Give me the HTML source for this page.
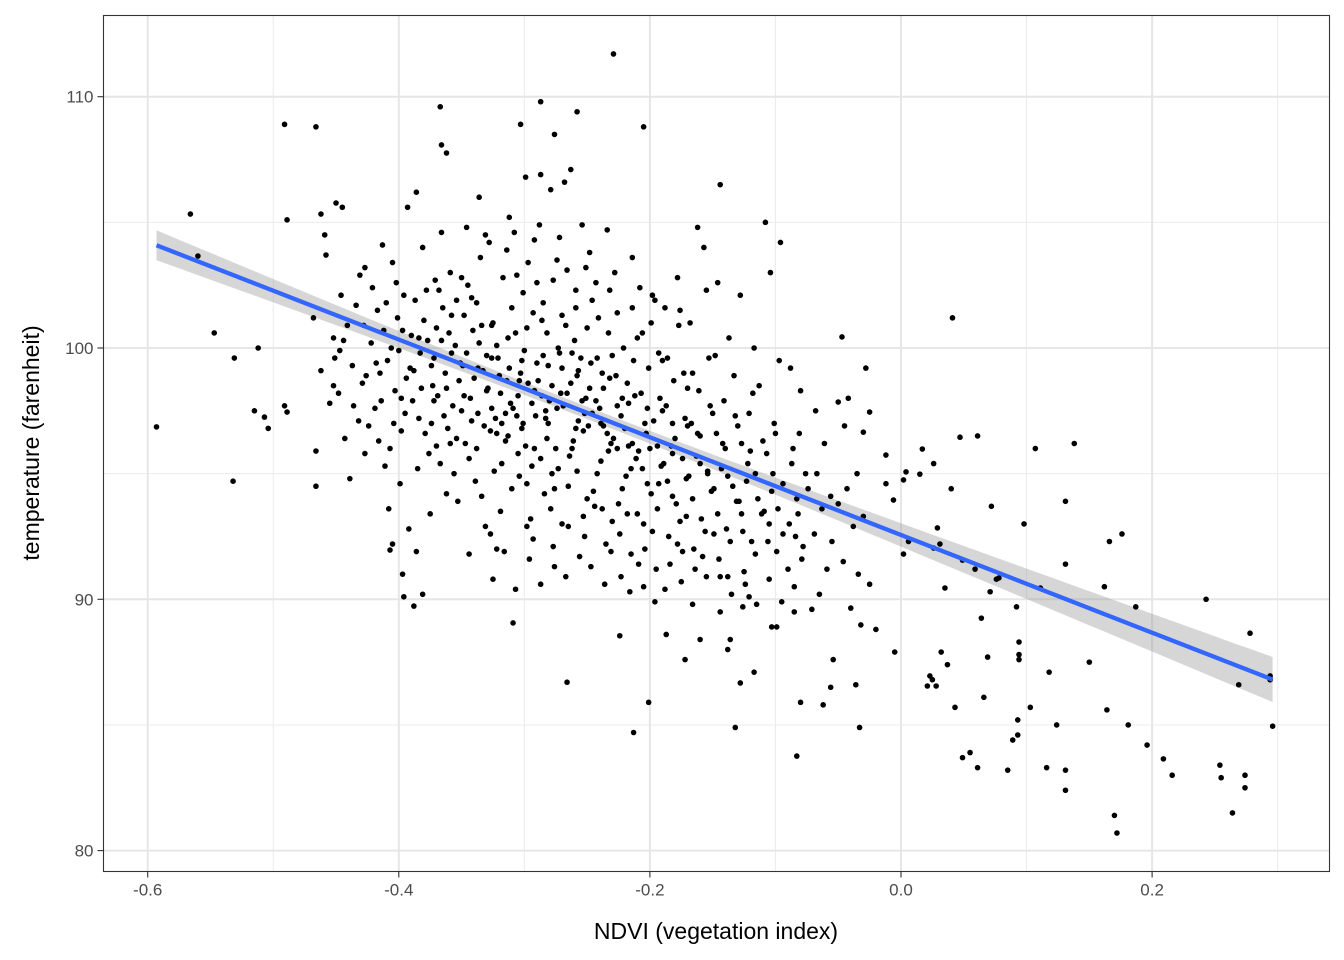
<!DOCTYPE html>
<html><head><meta charset="utf-8"><style>
html,body{margin:0;padding:0;background:#fff;}
svg{display:block;font-family:"Liberation Sans",Arial,sans-serif;}
</style></head><body>
<svg id="chart" width="1344" height="960" viewBox="0 0 1344 960">
<rect x="0" y="0" width="1344" height="960" fill="#fff"/>
<g id="grid"></g>
<g id="ribbon"></g>
<g id="pts"></g>
<g id="fit"></g>
<rect x="103.5" y="15.5" width="1226" height="856" fill="none" stroke="#333" stroke-width="1.1"/>
<g id="axes"></g>
<text x="716" y="939" text-anchor="middle" font-size="23" fill="#000">NDVI (vegetation index)</text>
<text transform="translate(39,443) rotate(-90)" text-anchor="middle" font-size="23" fill="#000">temperature (farenheit)</text>
</svg>
<script>
const xTicks = [-0.6, -0.4, -0.2, 0.0, 0.2];
const xTickLabels = ["-0.6", "-0.4", "-0.2", "0.0", "0.2"];
const yTicks = [80, 90, 100, 110];
const yTickLabels = ["80", "90", "100", "110"];
const fitIntercept = 92.56;
const fitSlope = -19.44;
const fitRange = [-0.593, 0.296];
const points = [
[-0.593,96.86],[-0.566,105.33],[-0.560,103.66],[-0.547,100.6],[-0.531,99.6],[-0.532,94.7],[-0.512,100.0],[-0.515,97.5],[-0.507,97.25],[-0.504,96.8],
[-0.491,108.9],[-0.489,105.1],[-0.491,97.7],[-0.489,97.45],[-0.466,108.8],[-0.466,94.5],[-0.462,105.33],[-0.45,105.77],[-0.367,109.6],[-0.366,108.08],
[-0.362,107.76],[-0.407,91.96],[-0.405,92.2],[-0.397,91.0],[-0.396,90.1],[-0.388,89.73],[-0.381,90.2],[-0.386,91.9],[-0.287,106.9],[-0.287,109.8],
[-0.303,108.9],[-0.258,109.4],[-0.276,108.5],[-0.229,111.7],[-0.205,108.8],[-0.144,106.5],[-0.309,89.06],[-0.266,86.7],[-0.224,88.55],[-0.213,84.7],
[-0.201,85.9],[-0.187,88.6],[-0.172,87.6],[-0.160,88.4],[-0.132,84.9],[-0.128,86.67],[-0.138,88.0],[-0.136,88.4],[-0.117,87.1],[-0.126,89.7],
[-0.103,88.9],[-0.099,88.9],[-0.083,83.76],[-0.085,89.5],[-0.080,85.9],[-0.071,89.6],[-0.062,85.8],[-0.056,86.5],[-0.054,87.6],[-0.040,89.65],
[-0.036,86.6],[-0.033,84.9],[-0.032,88.98],[-0.020,88.8],[-0.005,87.9],[0.041,101.2],[0.021,86.55],[0.023,86.95],[0.025,86.8],[0.028,86.55],
[0.032,87.9],[0.037,87.4],[0.043,85.7],[0.049,83.7],[0.055,83.9],[0.061,83.3],[0.069,87.7],[0.066,86.1],[0.071,90.3],[0.064,89.25],
[0.085,83.2],[0.089,84.4],[0.093,84.6],[0.093,85.2],[0.094,87.6],[0.094,87.8],[0.094,88.3],[0.092,89.7],[0.103,85.7],[0.107,96.0],
[0.098,93.0],[0.116,83.3],[0.118,87.1],[0.124,85.0],[0.131,82.4],[0.131,83.2],[0.131,91.4],[0.131,93.9],[0.138,96.2],[0.150,87.5],
[0.162,90.5],[0.164,85.6],[0.166,92.3],[0.170,81.4],[0.172,80.7],[0.176,92.6],[0.181,85.0],[0.187,89.7],[0.196,84.2],[0.209,83.65],
[0.216,83.0],[0.243,90.0],[0.254,83.4],[0.255,82.9],[0.264,81.5],[0.274,83.0],[0.274,82.5],[0.278,88.65],[0.294,86.95],[0.296,84.95],
[0.294,86.8],[0.269,86.6],[0.072,93.7],[0.061,96.5],[0.047,96.45],[0.040,94.4],[0.026,95.4],[0.015,94.98],[0.017,95.98],[0.029,92.84],
[0.035,90.45],[0.026,92.04],[0.031,92.2],[0.049,91.56],[0.059,91.2],[0.078,90.85],[0.111,90.45],[0.076,90.8],[0.006,92.3],[0.002,91.8],
[-0.006,93.95],[-0.012,94.6],[0.002,94.75],[0.004,95.07],[-0.012,95.74],[-0.028,99.2],[-0.047,100.44],[-0.042,98.0],[-0.050,97.85],[-0.030,96.65],[-0.025,97.45],
[-0.468,101.2],[-0.462,99.1],[-0.458,103.7],[-0.455,97.8],[-0.452,100.4],[-0.466,95.9],[-0.459,104.5],[-0.451,99.6],
[-0.448,98.2],[-0.446,102.1],[-0.443,96.4],[-0.441,100.9],[-0.439,94.8],[-0.445,105.6],[-0.437,99.3],[-0.434,101.7],[-0.432,97.1],[-0.447,99.9],
[-0.429,98.6],[-0.427,103.2],[-0.424,96.9],[-0.422,100.2],[-0.419,97.6],[-0.417,101.5],[-0.415,99.0],[-0.413,104.1],[-0.411,95.3],[-0.426,98.9],[-0.421,102.4],[-0.414,97.9],
[-0.409,99.5],[-0.407,96.0],[-0.405,103.4],[-0.403,98.3],[-0.401,101.2],[-0.399,94.6],[-0.397,100.7],[-0.395,97.4],[-0.393,105.6],[-0.391,99.2],[-0.408,93.6],[-0.402,102.6],[-0.398,96.7],[-0.394,98.8],[-0.392,92.8],[-0.406,100.0],
[-0.389,97.9],[-0.387,101.9],[-0.385,95.2],[-0.383,99.8],[-0.381,104.0],[-0.379,96.6],[-0.377,100.3],[-0.375,93.4],[-0.373,98.5],[-0.371,102.7],[-0.388,99.1],[-0.384,97.2],[-0.380,101.1],[-0.376,95.8],[-0.372,99.6],[-0.386,106.2],[-0.374,97.0],[-0.370,100.8],
[-0.369,98.1],[-0.367,95.4],[-0.365,101.6],[-0.363,99.0],[-0.361,96.8],[-0.359,103.0],[-0.357,97.7],[-0.355,100.1],[-0.353,93.9],[-0.351,99.4],[-0.368,102.3],[-0.364,97.3],[-0.360,100.6],[-0.356,95.0],[-0.352,98.7],[-0.366,104.6],[-0.358,99.8],[-0.354,101.9],[-0.362,94.2],[-0.350,97.5],
[-0.349,99.3],[-0.347,96.2],[-0.345,102.5],[-0.343,98.0],[-0.341,100.7],[-0.339,94.7],[-0.337,97.4],[-0.335,103.6],[-0.333,99.1],[-0.331,92.9],[-0.348,101.3],[-0.344,95.6],[-0.340,98.8],[-0.336,100.2],[-0.332,96.9],[-0.346,104.8],[-0.342,97.1],[-0.338,101.8],[-0.334,94.1],[-0.330,99.7],[-0.344,91.8],[-0.336,106.0],
[-0.329,98.4],[-0.327,96.7],[-0.325,101.0],[-0.323,97.2],[-0.321,99.6],[-0.319,93.5],[-0.317,102.8],[-0.315,96.3],[-0.313,100.4],[-0.311,97.8],[-0.328,104.2],[-0.324,95.1],[-0.320,98.9],[-0.316,91.9],[-0.312,99.2],[-0.326,100.9],[-0.322,96.6],[-0.318,97.0],[-0.314,103.9],[-0.310,94.4],[-0.327,92.6],[-0.319,98.2],[-0.313,96.5],[-0.325,90.8],
[-0.309,97.6],[-0.307,100.6],[-0.305,95.8],[-0.303,99.0],[-0.301,102.2],[-0.299,96.1],[-0.297,98.6],[-0.295,93.2],[-0.293,101.4],[-0.291,97.3],[-0.308,104.6],[-0.304,94.9],[-0.300,99.9],[-0.296,91.6],[-0.292,98.3],[-0.306,102.9],[-0.302,96.8],[-0.298,100.8],[-0.294,95.3],[-0.290,99.4],[-0.307,90.4],[-0.299,106.8],[-0.293,92.4],[-0.305,98.1],[-0.297,103.4],[-0.301,97.0],
[-0.289,98.7],[-0.287,95.6],[-0.285,101.8],[-0.283,97.5],[-0.281,99.3],[-0.279,93.6],[-0.277,102.7],[-0.275,96.0],[-0.273,100.0],[-0.271,98.2],[-0.288,104.9],[-0.284,94.2],[-0.280,97.9],[-0.276,91.3],[-0.272,99.8],[-0.286,101.1],[-0.282,96.4],[-0.278,98.5],[-0.274,103.5],[-0.270,93.0],[-0.287,90.6],[-0.279,106.3],[-0.273,95.2],[-0.285,99.7],[-0.277,92.1],[-0.283,97.2],
[-0.269,97.7],[-0.267,100.9],[-0.265,94.5],[-0.263,98.6],[-0.261,96.3],[-0.259,102.3],[-0.257,97.1],[-0.255,99.6],[-0.253,93.3],[-0.251,98.0],[-0.268,106.6],[-0.264,95.7],[-0.260,100.3],[-0.256,91.7],[-0.252,97.4],[-0.266,103.1],[-0.262,96.0],[-0.258,98.9],[-0.254,104.9],[-0.250,94.0],[-0.267,90.9],[-0.259,101.6],[-0.253,96.7],[-0.265,92.9],[-0.257,99.1],[-0.263,107.1],
[-0.249,96.9],[-0.247,99.4],[-0.245,94.3],[-0.243,97.9],[-0.241,101.2],[-0.239,95.5],[-0.237,98.4],[-0.235,92.2],[-0.233,100.6],[-0.231,96.2],[-0.248,103.8],[-0.244,93.7],[-0.240,97.6],[-0.236,90.6],[-0.232,98.8],[-0.246,101.9],[-0.242,95.0],[-0.238,99.0],[-0.234,104.7],[-0.230,93.1],[-0.247,91.3],[-0.239,97.0],[-0.233,95.9],[-0.243,102.6],
[-0.229,96.4],[-0.227,98.9],[-0.225,93.8],[-0.223,97.3],[-0.221,100.0],[-0.219,94.9],[-0.217,97.8],[-0.215,91.8],[-0.213,99.5],[-0.211,95.6],[-0.228,103.0],[-0.224,92.6],[-0.220,96.8],[-0.216,90.3],[-0.212,98.1],[-0.226,101.4],[-0.222,94.4],[-0.218,98.6],[-0.214,103.6],[-0.210,93.4],[-0.223,90.9],[-0.217,96.1],
[-0.209,95.9],[-0.207,98.2],[-0.205,93.0],[-0.203,96.6],[-0.201,99.2],[-0.199,94.2],[-0.197,97.1],[-0.195,91.2],[-0.193,99.8],[-0.191,95.3],[-0.208,102.4],[-0.204,92.0],[-0.200,96.0],[-0.196,89.9],[-0.192,98.0],[-0.206,100.6],[-0.202,94.6],[-0.198,102.1],[-0.194,93.6],[-0.190,97.5],[-0.205,90.5],[-0.199,101.0],
[-0.189,95.4],[-0.187,97.7],[-0.185,92.5],[-0.183,96.1],[-0.181,98.7],[-0.179,93.8],[-0.177,100.9],[-0.175,90.7],[-0.173,99.0],[-0.171,94.8],[-0.188,101.6],[-0.184,91.4],[-0.180,96.4],[-0.176,93.1],[-0.172,97.2],[-0.186,99.6],[-0.182,94.1],[-0.178,102.8],[-0.174,91.9],[-0.170,96.9],
[-0.169,94.9],[-0.167,97.0],[-0.165,92.0],[-0.163,95.7],[-0.161,98.3],[-0.159,93.2],[-0.157,104.0],[-0.155,90.9],[-0.153,99.6],[-0.151,94.3],[-0.168,101.0],[-0.164,91.2],[-0.160,96.5],[-0.156,92.7],[-0.152,97.7],[-0.166,99.0],[-0.162,104.8],[-0.154,95.1],
[-0.149,94.4],[-0.147,96.6],[-0.145,91.6],[-0.143,95.2],[-0.141,97.9],[-0.139,92.8],[-0.137,100.4],[-0.135,90.2],[-0.133,98.9],[-0.131,93.9],[-0.148,99.7],[-0.144,90.9],[-0.140,96.0],[-0.136,92.3],[-0.132,97.3],[-0.146,102.6],
[-0.129,93.9],[-0.127,96.2],[-0.125,91.1],[-0.123,94.7],[-0.121,97.4],[-0.119,92.3],[-0.117,100.0],[-0.115,89.8],[-0.113,98.5],[-0.111,93.4],[-0.128,102.1],[-0.124,90.6],[-0.120,95.9],[-0.116,91.8],
[-0.109,93.5],[-0.107,95.8],[-0.105,90.8],[-0.103,94.3],[-0.101,97.0],[-0.099,91.9],[-0.097,99.5],[-0.095,89.9],[-0.108,105.0],[-0.104,103.0],[-0.100,96.6],[-0.096,104.2],
[-0.089,93.0],[-0.087,95.4],[-0.085,90.5],[-0.083,94.0],[-0.081,96.6],[-0.079,91.6],[-0.088,99.2],[-0.084,92.5],[-0.080,98.3],[-0.076,95.0],
[-0.069,92.6],[-0.067,95.0],[-0.065,90.2],[-0.063,93.6],[-0.061,96.2],[-0.059,91.2],[-0.068,97.5],[-0.056,94.1],
[-0.055,92.3],[-0.050,93.8],[-0.046,91.5],[-0.043,94.4],[-0.038,92.9],[-0.034,91.0],[-0.030,93.3],[-0.025,90.6],[-0.045,96.9],[-0.035,95.0],
[-0.452,98.5],[-0.444,100.3],[-0.436,97.7],[-0.431,102.9],[-0.428,100.9],[-0.418,99.4],[-0.416,96.3],[-0.410,101.8],[-0.404,97.0],[-0.400,99.9],
[-0.396,102.1],[-0.390,100.5],[-0.382,98.4],[-0.378,102.3],[-0.374,99.3],[-0.370,96.1],[-0.366,100.3],[-0.362,98.4],[-0.358,101.3],[-0.354,96.4],
[-0.350,102.8],[-0.346,99.8],[-0.342,102.0],[-0.338,96.0],[-0.334,100.9],[-0.330,98.3],[-0.326,97.6],[-0.322,100.1],[-0.318,95.4],[-0.314,98.7],
[-0.310,101.6],[-0.306,97.3],[-0.302,99.5],[-0.298,94.6],[-0.294,97.8],[-0.290,102.6],[-0.286,98.1],[-0.282,100.6],[-0.278,95.0],[-0.274,97.6],
[-0.270,101.3],[-0.266,98.2],[-0.262,99.8],[-0.258,95.1],[-0.254,97.9],[-0.250,100.8],[-0.246,97.4],[-0.242,99.6],[-0.238,93.6],[-0.234,96.6],
[-0.230,99.7],[-0.226,96.0],[-0.222,98.0],[-0.218,93.4],[-0.214,96.2],[-0.210,100.4],[-0.206,95.2],[-0.202,97.6],[-0.198,92.7],[-0.194,96.1],
[-0.190,99.5],[-0.186,94.7],[-0.182,97.0],[-0.178,92.2],[-0.174,95.6],[-0.170,98.4],[-0.166,94.0],[-0.162,96.6],[-0.158,91.7],[-0.154,95.0],
[-0.150,97.4],[-0.146,93.4],[-0.142,96.2],[-0.138,90.9],[-0.134,94.5],[-0.130,96.9],[-0.126,92.7],[-0.122,95.4],[-0.118,98.2],[-0.114,94.0],
[-0.110,96.3],[-0.106,92.3],[-0.102,95.0],[-0.098,93.6],[-0.094,94.6],[-0.090,91.2],[-0.086,96.0],[-0.082,93.4],[-0.078,92.1],[-0.074,94.4],
[-0.427,95.8],[-0.412,100.7],[-0.398,98.0],[-0.384,100.4],[-0.372,97.9],[-0.359,96.2],[-0.348,98.1],[-0.337,99.2],[-0.326,99.6],[-0.315,97.4],
[-0.304,98.7],[-0.292,96.0],[-0.281,97.0],[-0.270,99.2],[-0.259,96.8],[-0.248,98.4],[-0.237,96.9],[-0.226,97.7],[-0.215,95.2],[-0.204,97.0],
[-0.193,94.6],[-0.182,95.8],[-0.171,93.3],[-0.160,95.4],[-0.149,92.6],[-0.138,94.9],[-0.127,93.4],[-0.116,95.0],[-0.105,93.0],[-0.094,92.6],
[-0.322,92.0],[-0.298,92.9],[-0.276,94.4],[-0.252,92.5],[-0.231,91.9],[-0.209,91.4],[-0.188,90.4],[-0.166,89.8],[-0.144,89.5],[-0.121,90.1],
[-0.331,104.5],[-0.312,105.2],[-0.292,104.3],[-0.272,104.4],[-0.251,103.2],[-0.232,102.3],[-0.214,101.6],[-0.196,101.9],[-0.176,101.5],[-0.155,102.3]
];

const NS = "http://www.w3.org/2000/svg";
const X0 = 901, XS = 1255.5;
const Y0 = 348, YS = 25.13;
function sx(v){ return X0 + v * XS; }
function sy(v){ return Y0 - (v - 100) * YS; }
function mk(tag, attrs, parent){
  const e = document.createElementNS(NS, tag);
  for (const k in attrs) e.setAttribute(k, attrs[k]);
  parent.appendChild(e);
  return e;
}
const PL = 103.5, PR = 1329.5, PT = 15.5, PB = 871.5;
const grid = document.getElementById('grid');
for (let i = 0; i < xTicks.length; i++) {
  const v = xTicks[i] + 0.1;
  const x = sx(v);
  if (x > PL && x < PR) {
    const l = mk('line', {x1:x, x2:x, y1:PT, y2:PB, stroke:'#ebebeb', 'stroke-width':1}, grid);
    
    
  }
}
for (let i = 0; i < yTicks.length; i++) {
  const v = yTicks[i] + 5;
  const y = sy(v);
  if (y > PT && y < PB) {
    const l = mk('line', {x1:PL, x2:PR, y1:y, y2:y, stroke:'#ebebeb', 'stroke-width':1}, grid);
    
    
  }
}
const axes = document.getElementById('axes');
for (let i = 0; i < xTicks.length; i++) {
  const x = sx(xTicks[i]);
  const l = mk('line', {x1:x, x2:x, y1:PT, y2:PB, stroke:'#e6e6e6', 'stroke-width':2}, grid);
  
  
  const t = mk('line', {x1:x, x2:x, y1:PB, y2:PB+6, stroke:'#333', 'stroke-width':1.1}, axes);
  
  
  const tx = mk('text', {x:x, y:PB+24, 'text-anchor':'middle', 'font-size':17, fill:'#4d4d4d'}, axes);
  tx.textContent = xTickLabels[i];
  
  
}
for (let i = 0; i < yTicks.length; i++) {
  const y = sy(yTicks[i]);
  const l = mk('line', {x1:PL, x2:PR, y1:y, y2:y, stroke:'#e6e6e6', 'stroke-width':2}, grid);
  
  
  const t = mk('line', {x1:PL-6, x2:PL, y1:y, y2:y, stroke:'#333', 'stroke-width':1.1}, axes);
  
  
  const tx = mk('text', {x:PL-10, y:y+6, 'text-anchor':'end', 'font-size':17, fill:'#4d4d4d'}, axes);
  tx.textContent = yTickLabels[i];
  
  
}
const pg = document.getElementById('pts');
for (const p of points) {
  const c = mk('circle', {cx:sx(p[0]), cy:sy(p[1]), r:2.8, fill:'#000'}, pg);
  
  
}
const xm = -0.25;
function se(x){ return Math.sqrt(0.06 + 2.5 * (x - xm) * (x - xm)); }
function fy(x){ return fitIntercept + fitSlope * x; }
let up = [], lo = [];
const N = 60;
for (let i = 0; i <= N; i++) {
  const x = fitRange[0] + (fitRange[1] - fitRange[0]) * i / N;
  up.push(sx(x).toFixed(1) + ',' + sy(fy(x) + se(x)).toFixed(1));
  lo.push(sx(x).toFixed(1) + ',' + sy(fy(x) - se(x)).toFixed(1));
}
const rb = mk('polygon', {points: up.concat(lo.reverse()).join(' '), fill:'#999', 'fill-opacity':0.4}, document.getElementById('ribbon'));


const fl = mk('line', {x1:sx(fitRange[0]), y1:sy(fy(fitRange[0])), x2:sx(fitRange[1]), y2:sy(fy(fitRange[1])), stroke:'#3366ff', 'stroke-width':4.3}, document.getElementById('fit'));


</script>
</body></html>
